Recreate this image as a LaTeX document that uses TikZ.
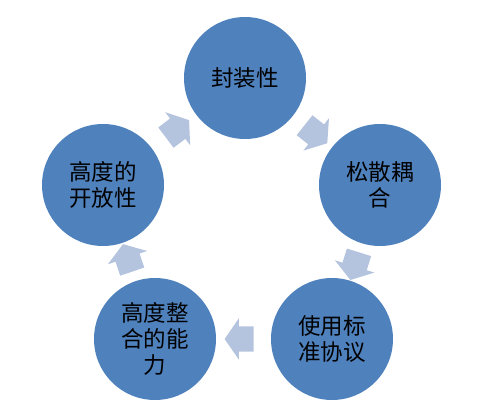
\documentclass[tikz,border=0pt]{standalone}
\usepackage{fontspec}
\setmainfont{Noto Sans CJK SC}
\usepackage{tikz}
\usetikzlibrary{shapes.arrows}
\definecolor{blau}{HTML}{4F81BD}
\definecolor{hblau}{HTML}{B4C4DE}
\tikzset{
  kreis/.style={circle,fill=blau,minimum size=122pt,inner sep=0pt,align=center,
    font=\fontsize{22.5}{26}\selectfont},
  pfeil/.style={single arrow,fill=hblau,inner xsep=0pt,inner ysep=12.5pt,
    minimum height=29pt,single arrow head extend=8pt,single arrow tip angle=111,
    sloped,allow upside down},
}

\begin{document}
\begin{tikzpicture}[x=1pt,y=-1pt]
  \useasboundingbox (0,0) rectangle (480,413);
  \node[kreis] (feng) at (245,78) {封装性};
  \node[kreis] (song) at (380,185) {松散耦\\合};
  \node[kreis] (shi)  at (332,339) {使用标\\准协议};
  \node[kreis] (gao)  at (155,339) {高度整\\合的能\\力};
  \node[kreis] (kai)  at (103,185) {高度的\\开放性};
  % Pfeile im Kreis
  \path (feng) -- node[pfeil] (p1) {} (song);
  \path (song) -- node[pfeil] (p2) {} (shi);
  \path (shi)  -- node[pfeil] (p3) {} (gao);
  \path (gao)  -- node[pfeil] (p4) {} (kai);
  \path (kai)  -- node[pfeil] (p5) {} (feng);
\end{tikzpicture}
\end{document}
